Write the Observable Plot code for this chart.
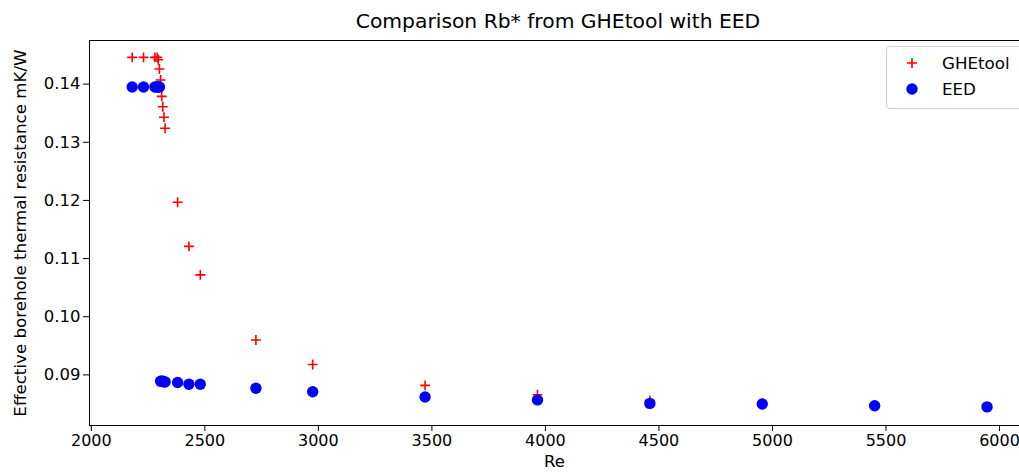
<!DOCTYPE html>
<html>
<head>
<meta charset="utf-8">
<script src="https://cdn.jsdelivr.net/npm/d3@7"></script>
<script src="https://cdn.jsdelivr.net/npm/@observablehq/plot@0.6"></script>
<style>
  html, body { margin: 0; padding: 0; background: #fff; }
  #wrap { position: relative; width: 1019px; height: 475px; overflow: hidden; font-family: "DejaVu Sans", sans-serif; }
  #title { position: absolute; left: 558px; top: 8px; transform: translateX(-50%); font-size: 20.3px; line-height: 26px; color: #000; white-space: nowrap; }
  #legend { position: absolute; left: 886px; top: 46px; width: 140px; height: 61px; border: 1px solid #d0d0d0; border-radius: 4px; background: #fff; font-size: 16.7px; }
  .row { position: absolute; left: 0; height: 22px; }
  .lab { position: absolute; left: 55px; top: 0; line-height: 22px; white-space: nowrap; }
  svg { display: block; }
</style>
</head>
<body>
<div id="wrap">
  <div id="chart"></div>
  <div id="title">Comparison Rb* from GHEtool with EED</div>
  <div id="legend">
    <div class="row" style="top:5px;"><svg width="40" height="22" style="position:absolute;left:10px;top:0"><path d="M15,6V16M10,11H20" stroke="#ff0000" stroke-width="1.6" fill="none"/></svg><span class="lab">GHEtool</span></div>
    <div class="row" style="top:31px;"><svg width="40" height="22" style="position:absolute;left:10px;top:0"><circle cx="15" cy="11" r="5.7" fill="#0000ff"/></svg><span class="lab">EED</span></div>
  </div>
</div>
<script>
// Reynolds numbers (shared x values)
const re = [2180, 2230, 2280, 2290, 2295, 2300, 2305, 2310, 2315, 2320, 2325, 2380, 2430, 2480, 2725, 2975, 3470, 3965, 4460, 4955, 5450, 5945];
// Effective borehole thermal resistance from GHEtool
const ghetool = [0.1446, 0.1446, 0.1446, 0.1446, 0.1442, 0.1426, 0.1407, 0.1379, 0.1361, 0.1343, 0.1324, 0.1197, 0.1121, 0.1072, 0.0960, 0.0918, 0.0882, 0.0866, 0.0856, 0.0851, 0.0848, 0.0845];
// Effective borehole thermal resistance from EED
const eed = [0.1395, 0.1395, 0.1395, 0.1395, 0.1395, 0.1395, 0.0889, 0.0889, 0.0889, 0.0888, 0.0888, 0.0887, 0.0884, 0.0884, 0.0877, 0.0871, 0.0862, 0.0857, 0.0851, 0.0850, 0.0847, 0.0845];
const xTicks = [2000, 2500, 3000, 3500, 4000, 4500, 5000, 5500, 6000];
const yTicks = [0.09, 0.10, 0.11, 0.12, 0.13, 0.14];
const xTitle = "Re";
const yTitle = "Effective borehole thermal resistance mK/W";

const gData = re.map((r, i) => ({re: r, rb: ghetool[i]}));
const eData = re.map((r, i) => ({re: r, rb: eed[i]}));

const xDom = [1992, 6088];
const yDom = [0.0813, 0.1475];

const chart = Plot.plot({
  width: 1019,
  height: 475,
  marginLeft: 89,
  marginRight: 0,
  marginTop: 40,
  marginBottom: 50,
  style: {fontFamily: "DejaVu Sans, sans-serif", fontSize: "16px", color: "#000", background: "#fff", overflow: "visible"},
  x: {domain: xDom, label: null},
  y: {domain: yDom, label: null},
  marks: [
    Plot.ruleY([yDom[0]], {stroke: "#000", strokeWidth: 1}),
    Plot.ruleY([yDom[1]], {stroke: "#000", strokeWidth: 1}),
    Plot.ruleX([xDom[0]], {stroke: "#000", strokeWidth: 1}),
    Plot.axisX({ticks: xTicks, tickFormat: d3.format("d"), tickSize: 6, tickPadding: 3, fontSize: 16, label: null}),
    Plot.axisY({ticks: yTicks, tickFormat: d3.format(".2f"), tickSize: 6, tickPadding: 3, fontSize: 16.5, label: null}),
    Plot.text([xTitle], {frameAnchor: "bottom", dy: 41, fontSize: 16.5, fill: "#000"}),
    Plot.text([yTitle], {frameAnchor: "left", dx: -69, rotate: -90, textAnchor: "middle", fontSize: 16.7, fill: "#000"}),
    Plot.dot(gData, {x: "re", y: "rb", symbol: "plus", r: 3.3, stroke: "#ff0000", strokeWidth: 1.6}),
    Plot.dot(eData, {x: "re", y: "rb", r: 5.7, fill: "#0000ff", stroke: null})
  ]
});
document.getElementById("chart").appendChild(chart);
</script>
</body>
</html>
